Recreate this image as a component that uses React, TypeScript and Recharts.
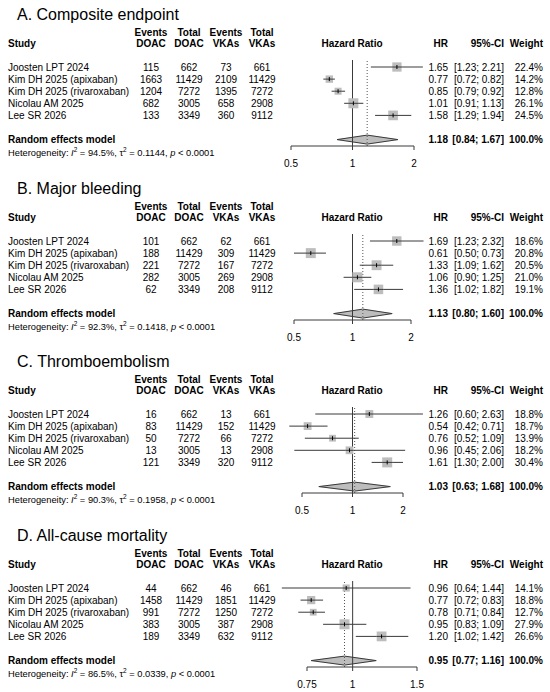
import React from 'react';
import { ScatterChart, Scatter, XAxis, YAxis, ReferenceLine, ReferenceArea } from 'recharts';

const FONT = '"Liberation Sans", Arial, Helvetica, sans-serif';

const studies = [
  'Joosten LPT 2024',
  'Kim DH 2025 (apixaban)',
  'Kim DH 2025 (rivaroxaban)',
  'Nicolau AM 2025',
  'Lee SR 2026',
];
const totalDoac = [662, 11429, 7272, 3005, 3349];
const totalVka = [661, 11429, 7272, 2908, 9112];

// A. Composite endpoint
const compEventsDoac = [115, 1663, 1204, 682, 133];
const compEventsVka = [73, 2109, 1395, 658, 360];
const compHr = [1.65, 0.77, 0.85, 1.01, 1.58];
const compLo = [1.23, 0.72, 0.79, 0.91, 1.29];
const compHi = [2.21, 0.82, 0.92, 1.13, 1.94];
const compWeight = [22.4, 14.2, 12.8, 26.1, 24.5];
const compPooled = [1.18, 0.84, 1.67];
const compHet = ['94.5%', '0.1144', '0.0001'];
const compTicks = [0.5, 1, 2];

// B. Major bleeding
const bleedEventsDoac = [101, 188, 221, 282, 62];
const bleedEventsVka = [62, 309, 167, 269, 208];
const bleedHr = [1.69, 0.61, 1.33, 1.06, 1.36];
const bleedLo = [1.23, 0.5, 1.09, 0.9, 1.02];
const bleedHi = [2.32, 0.73, 1.62, 1.25, 1.82];
const bleedWeight = [18.6, 20.8, 20.5, 21.0, 19.1];
const bleedPooled = [1.13, 0.8, 1.6];
const bleedHet = ['92.3%', '0.1418', '0.0001'];
const bleedTicks = [0.5, 1, 2];

// C. Thromboembolism
const teEventsDoac = [16, 83, 50, 13, 121];
const teEventsVka = [13, 152, 66, 13, 320];
const teHr = [1.26, 0.54, 0.76, 0.96, 1.61];
const teLo = [0.6, 0.42, 0.52, 0.45, 1.3];
const teHi = [2.63, 0.71, 1.09, 2.06, 2.0];
const teWeight = [18.8, 18.7, 13.9, 18.2, 30.4];
const tePooled = [1.03, 0.63, 1.68];
const teHet = ['90.3%', '0.1958', '0.0001'];
const teTicks = [0.5, 1, 2];

// D. All-cause mortality
const mortEventsDoac = [44, 1458, 991, 383, 189];
const mortEventsVka = [46, 1851, 1250, 387, 632];
const mortHr = [0.96, 0.77, 0.78, 0.95, 1.2];
const mortLo = [0.64, 0.72, 0.71, 0.83, 1.02];
const mortHi = [1.44, 0.83, 0.84, 1.09, 1.42];
const mortWeight = [14.1, 18.8, 12.7, 27.9, 26.6];
const mortPooled = [0.95, 0.77, 1.16];
const mortHet = ['86.5%', '0.0339', '0.0001'];
const mortTicks = [0.75, 1, 1.5];

type PanelDef = {
  title: string;
  eventsDoac: number[];
  eventsVka: number[];
  hr: number[];
  lo: number[];
  hi: number[];
  weight: number[];
  pooled: number[];
  het: string[];
  ticks: number[];
  left: number;
  right: number;
  top: number;
};

const panels: PanelDef[] = [
  { title: 'A. Composite endpoint', eventsDoac: compEventsDoac, eventsVka: compEventsVka, hr: compHr, lo: compLo, hi: compHi, weight: compWeight, pooled: compPooled, het: compHet, ticks: compTicks, left: 291, right: 136, top: 0 },
  { title: 'B. Major bleeding', eventsDoac: bleedEventsDoac, eventsVka: bleedEventsVka, hr: bleedHr, lo: bleedLo, hi: bleedHi, weight: bleedWeight, pooled: bleedPooled, het: bleedHet, ticks: bleedTicks, left: 294, right: 139, top: 174 },
  { title: 'C. Thromboembolism', eventsDoac: teEventsDoac, eventsVka: teEventsVka, hr: teHr, lo: teLo, hi: teHi, weight: teWeight, pooled: tePooled, het: teHet, ticks: teTicks, left: 302, right: 147, top: 347 },
  { title: 'D. All-cause mortality', eventsDoac: mortEventsDoac, eventsVka: mortEventsVka, hr: mortHr, lo: mortLo, hi: mortHi, weight: mortWeight, pooled: mortPooled, het: mortHet, ticks: mortTicks, left: 307, right: 133, top: 521 },
];

const ROW_BASE = 70.5;
const ROW_STEP = 12.1;

const DIAMOND_FILL = '#bdbdbd';
const LINE = '#3a3a3a';

const leftTri = (props: any) => {
  const { x, y, width, height } = props;
  const cy = y + height / 2;
  return (
    <g>
      <polygon points={`${x},${cy} ${x + width},${y} ${x + width},${y + height}`} fill={DIAMOND_FILL} stroke={DIAMOND_FILL} strokeWidth={0.5} />
      <polyline points={`${x + width},${y} ${x},${cy} ${x + width},${y + height}`} fill="none" stroke={LINE} strokeWidth={1} />
    </g>
  );
};

const rightTri = (props: any) => {
  const { x, y, width, height } = props;
  const cy = y + height / 2;
  return (
    <g>
      <polygon points={`${x},${y} ${x + width},${cy} ${x},${y + height}`} fill={DIAMOND_FILL} stroke={DIAMOND_FILL} strokeWidth={0.5} />
      <polyline points={`${x},${y} ${x + width},${cy} ${x},${y + height}`} fill="none" stroke={LINE} strokeWidth={1} />
    </g>
  );
};

function Panel({ p }: { p: PanelDef }) {
  const maxW = Math.max(...p.weight);
  const data = p.hr.map((h, i) => ({ x: h, y: i, w: p.weight[i], lo: p.lo[i], hi: p.hi[i] }));

  const square = (props: any) => {
    const { cx, cy, payload } = props;
    if (cx == null || cy == null) return <g />;
    const s = 10 * Math.sqrt(payload.w / maxW);
    return (
      <g>
        <rect x={cx - s / 2} y={cy - s / 2} width={s} height={s} fill="#bdbdbd" />
        <line x1={cx - s / 2} x2={cx + s / 2} y1={cy} y2={cy} stroke={LINE} strokeWidth={1} />
        <line x1={cx} x2={cx} y1={cy - 2} y2={cy + 2} stroke="#000" strokeWidth={1} />
      </g>
    );
  };

  const rowY = (i: number) => ROW_BASE + ROW_STEP * i;
  const txt = { fontFamily: FONT, fontSize: 10, fill: '#000' } as const;

  return (
    <div style={{ position: 'absolute', left: 0, top: p.top, width: 550, height: 174 }}>
      <ScatterChart width={550} height={174} margin={{ top: 60, right: p.right, bottom: 0, left: p.left }}>
        <XAxis
          type="number"
          dataKey="x"
          scale="log"
          domain={[p.ticks[0], p.ticks[p.ticks.length - 1]]}
          ticks={p.ticks}
          allowDataOverflow
          interval={0}
          height={28}
          tickSize={4}
          tickMargin={10}
          axisLine={{ stroke: LINE }}
          tickLine={{ stroke: LINE }}
          tick={{ fontSize: 10, fill: '#000', fontFamily: FONT }}
          tickFormatter={(v: number) => String(v)}
        />
        <YAxis type="number" dataKey="y" domain={[-0.58, 6.53]} reversed hide allowDataOverflow />
        <ReferenceLine x={1} stroke={LINE} strokeWidth={1} ifOverflow="visible" />
        <ReferenceLine x={p.pooled[0]} stroke="#555" strokeWidth={1} strokeDasharray="1 2" ifOverflow="visible" />
        {data.map((d) => (
          <ReferenceLine
            key={`ci-${d.y}`}
            segment={[{ x: d.lo, y: d.y }, { x: d.hi, y: d.y }]}
            stroke={LINE}
            strokeWidth={1}
            ifOverflow="visible"
          />
        ))}
        <ReferenceArea x1={p.pooled[1]} x2={p.pooled[0]} y1={5.63} y2={6.37} ifOverflow="visible" shape={leftTri} />
        <ReferenceArea x1={p.pooled[0]} x2={p.pooled[2]} y1={5.63} y2={6.37} ifOverflow="visible" shape={rightTri} />
        <Scatter data={data} shape={square} isAnimationActive={false} />
      </ScatterChart>
      <svg width={550} height={174} style={{ position: 'absolute', left: 0, top: 0, pointerEvents: 'none' }}>
        <text x={17} y={20} fontFamily={FONT} fontSize={16} fill="#000">{p.title}</text>
        <g fontWeight="bold" {...txt}>
          <text x={151} y={35.5} textAnchor="middle">Events</text>
          <text x={189} y={35.5} textAnchor="middle">Total</text>
          <text x={226} y={35.5} textAnchor="middle">Events</text>
          <text x={262} y={35.5} textAnchor="middle">Total</text>
          <text x={8} y={46.5}>Study</text>
          <text x={151} y={46.5} textAnchor="middle">DOAC</text>
          <text x={189} y={46.5} textAnchor="middle">DOAC</text>
          <text x={226} y={46.5} textAnchor="middle">VKAs</text>
          <text x={262} y={46.5} textAnchor="middle">VKAs</text>
          <text x={352} y={46.5} textAnchor="middle">Hazard Ratio</text>
          <text x={448} y={46.5} textAnchor="end">HR</text>
          <text x={504} y={46.5} textAnchor="end">95%-CI</text>
          <text x={543} y={46.5} textAnchor="end">Weight</text>
        </g>
        <g {...txt}>
          {studies.map((s, i) => (
            <g key={s}>
              <text x={8} y={rowY(i)}>{s}</text>
              <text x={151} y={rowY(i)} textAnchor="middle">{p.eventsDoac[i]}</text>
              <text x={189} y={rowY(i)} textAnchor="middle">{totalDoac[i]}</text>
              <text x={226} y={rowY(i)} textAnchor="middle">{p.eventsVka[i]}</text>
              <text x={262} y={rowY(i)} textAnchor="middle">{totalVka[i]}</text>
              <text x={448} y={rowY(i)} textAnchor="end">{p.hr[i].toFixed(2)}</text>
              <text x={504} y={rowY(i)} textAnchor="end">{`[${p.lo[i].toFixed(2)}; ${p.hi[i].toFixed(2)}]`}</text>
              <text x={543} y={rowY(i)} textAnchor="end">{`${p.weight[i].toFixed(1)}%`}</text>
            </g>
          ))}
        </g>
        <g fontWeight="bold" {...txt}>
          <text x={8} y={142.5}>Random effects model</text>
          <text x={448} y={142.5} textAnchor="end">{p.pooled[0].toFixed(2)}</text>
          <text x={504} y={142.5} textAnchor="end">{`[${p.pooled[1].toFixed(2)}; ${p.pooled[2].toFixed(2)}]`}</text>
          <text x={543} y={142.5} textAnchor="end">100.0%</text>
        </g>
        <text x={8} y={155.5} fontFamily={FONT} fontSize={9.3} fill="#000">
          Heterogeneity: <tspan fontStyle="italic">I</tspan>
          <tspan fontSize={6.5} dy={-4}>2</tspan>
          <tspan dy={4}>{` = ${p.het[0]}, τ`}</tspan>
          <tspan fontSize={6.5} dy={-4}>2</tspan>
          <tspan dy={4}>{` = ${p.het[1]}, `}</tspan>
          <tspan fontStyle="italic">p</tspan>
          <tspan>{` < ${p.het[2]}`}</tspan>
        </text>
      </svg>
    </div>
  );
}

export default function App() {
  return (
    <div style={{ position: 'absolute', left: 0, top: 0, width: 550, height: 692, background: '#fff' }}>
      {panels.map((p) => (
        <Panel key={p.title} p={p} />
      ))}
    </div>
  );
}
